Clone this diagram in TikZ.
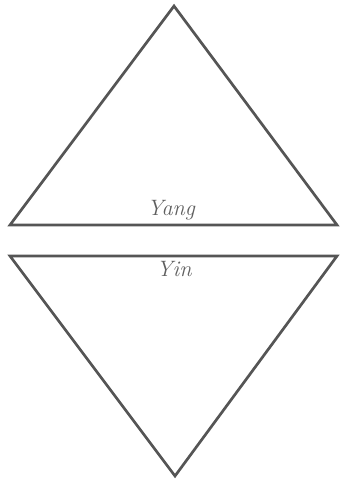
\documentclass[tikz,border=0pt]{standalone}
\usepackage{tikz}
\usetikzlibrary{positioning}
\definecolor{edgegray}{RGB}{85,85,85}
\definecolor{labelgray}{RGB}{95,95,95}

\begin{document}
\begin{tikzpicture}[x=0.03cm, y=-0.03cm,
    side/.style={draw=edgegray, line width=2.3pt, line join=miter},
    tag/.style={text=labelgray, font=\fontsize{19}{22}\selectfont\itshape,
                inner sep=0pt}]
  \useasboundingbox (0,0) rectangle (339,481);
  % upper triangle
  \coordinate (yangtop) at (174,6);
  \coordinate (yangleft) at (10,225);
  \coordinate (yangright) at (337,225);
  \draw[side] (yangtop) -- (yangright) -- (yangleft) -- cycle;
  \node[tag, anchor=base] (yang) at (171,215) {Yang};
  % lower triangle
  \coordinate (yinleft) at (10,256);
  \coordinate (yinright) at (337,256);
  \coordinate (yinbottom) at (175,476);
  \draw[side] (yinleft) -- (yinright) -- (yinbottom) -- cycle;
  \node[tag, anchor=base] (yin) at (174,276) {Yin};
\end{tikzpicture}
\end{document}
